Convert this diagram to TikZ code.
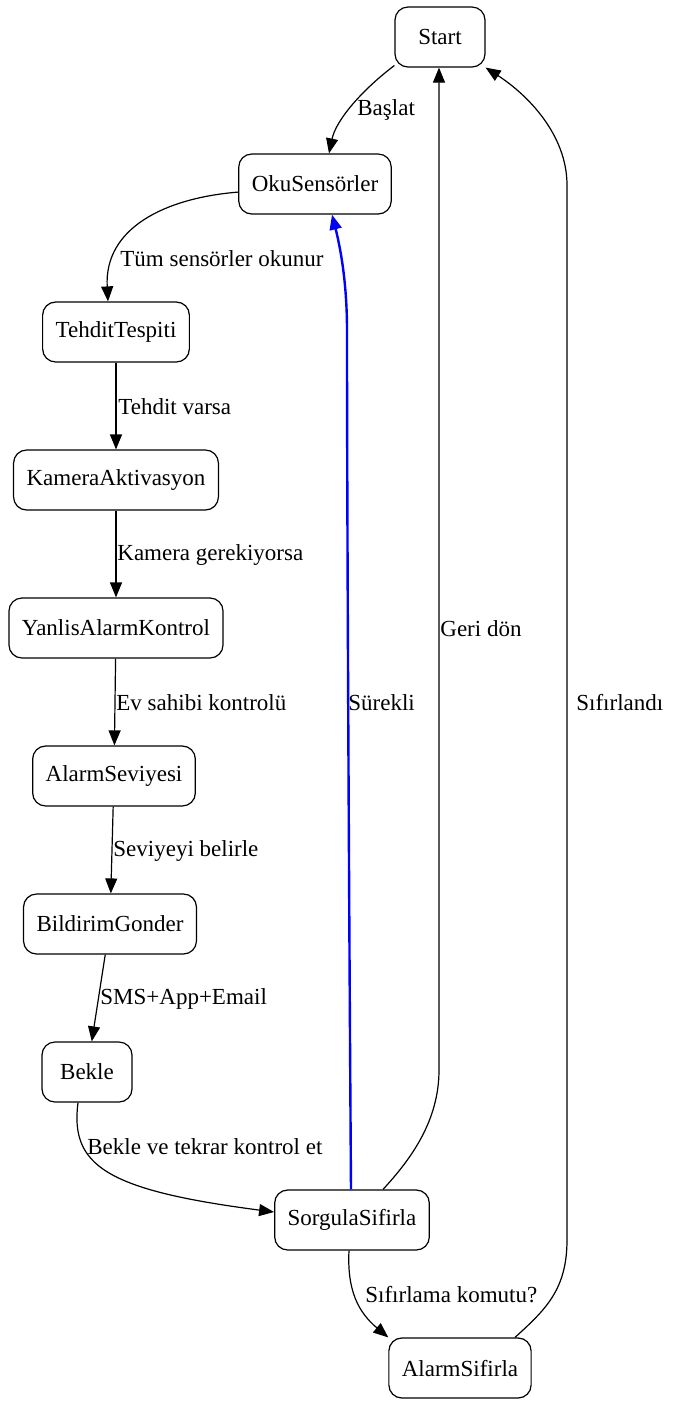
\documentclass[tikz,border=0pt]{standalone}
\usepackage{fontspec}
\setmainfont{Liberation Serif}
\usetikzlibrary{arrows.meta, calc}
\definecolor{loopblue}{RGB}{0,0,255}

\begin{document}
\begin{tikzpicture}[
  x=0.5pt, y=-0.5pt,
  state/.style={draw, rounded corners=6.5pt, minimum height=30pt, minimum width=45pt,
                inner xsep=6.5pt, font=\fontsize{11.5}{13}\selectfont, line width=0.6pt},
  lbl/.style={anchor=west, inner sep=0pt, font=\fontsize{11.5}{13}\selectfont},
  arr/.style={-{Triangle[length=7.5pt, width=6pt]}, line width=0.6pt}
]
\useasboundingbox (0,0) rectangle (678,1405);
% states
\node[state] (start)    at (440,37)   {Start};
\node[state] (okus)     at (315,184)  {OkuSensörler};
\node[state] (tehdit)   at (116,332)  {TehditTespiti};
\node[state] (kamera)   at (116,480)  {KameraAktivasyon};
\node[state] (yanlis)   at (116,628)  {YanlisAlarmKontrol};
\node[state] (seviye)   at (114,776)  {AlarmSeviyesi};
\node[state] (bildirim) at (110,924)  {BildirimGonder};
\node[state] (bekle)    at (87,1072)  {Bekle};
\node[state] (sorgula)  at (352,1220) {SorgulaSifirla};
\node[state] (alarmsif) at (460,1368) {AlarmSifirla};
% main flow
\draw[arr] (start.212) .. controls (362,90) and (336,120) .. ($(okus.north)+(14,0)$);
\draw[arr] (okus.186) .. controls (165,198) and (104,228) .. ($(tehdit.north)+(-8,0)$);
\draw[arr] (tehdit) -- (kamera);
\draw[arr] (kamera) -- (yanlis);
\draw[arr] (yanlis) -- (seviye);
\draw[arr] (seviye) -- (bildirim);
\draw[arr] (bildirim) -- (bekle);
\draw[arr] ($(bekle.south)+(-9,0)$) .. controls (70,1165) and (105,1190) .. ($(sorgula.west)+(0,-8)$);
% loops back
\draw[arr, loopblue, line width=1.2pt] ($(sorgula.north)+(-1,0)$) .. controls (349,900) and (347,500) .. (347,330)
  .. controls (347,285) and (341,250) .. ($(okus.south)+(17,0)$);
\draw[arr] ($(sorgula.north)+(31,0)$) .. controls (412,1158) and (439,1120) .. (439,1070) -- ($(start.south)+(-1,0)$);
\draw[arr] ($(sorgula.south)+(-3,0)$) .. controls (347,1290) and (358,1312) .. (alarmsif.north west);
\draw[arr] ($(alarmsif.north)+(55,0)$) .. controls (545,1310) and (567,1290) .. (567,1240) -- (567,185)
  .. controls (567,135) and (528,95) .. (start.south east);
% labels
\node[lbl] (lstart)    at (357,110)  {Başlat};
\node[lbl] (lokus)     at (120,259)  {Tüm sensörler okunur};
\node[lbl] (ltehdit)   at (118,407)  {Tehdit varsa};
\node[lbl] (lkamera)   at (117,555)  {Kamera gerekiyorsa};
\node[lbl] (lyanlis)   at (116,703)  {Ev sahibi kontrolü};
\node[lbl] (lseviye)   at (113,851)  {Seviyeyi belirle};
\node[lbl] (lbildirim) at (100,999)  {SMS+App+Email};
\node[lbl] (lbekle)    at (87,1147)  {Bekle ve tekrar kontrol et};
\node[lbl] (lsurekli)  at (348,703)  {Sürekli};
\node[lbl] (lgeri)     at (440,629)  {Geri dön};
\node[lbl] (lsifir)    at (576,703)  {Sıfırlandı};
\node[lbl] (lkomut)    at (365,1295) {Sıfırlama komutu?};
\end{tikzpicture}
\end{document}
